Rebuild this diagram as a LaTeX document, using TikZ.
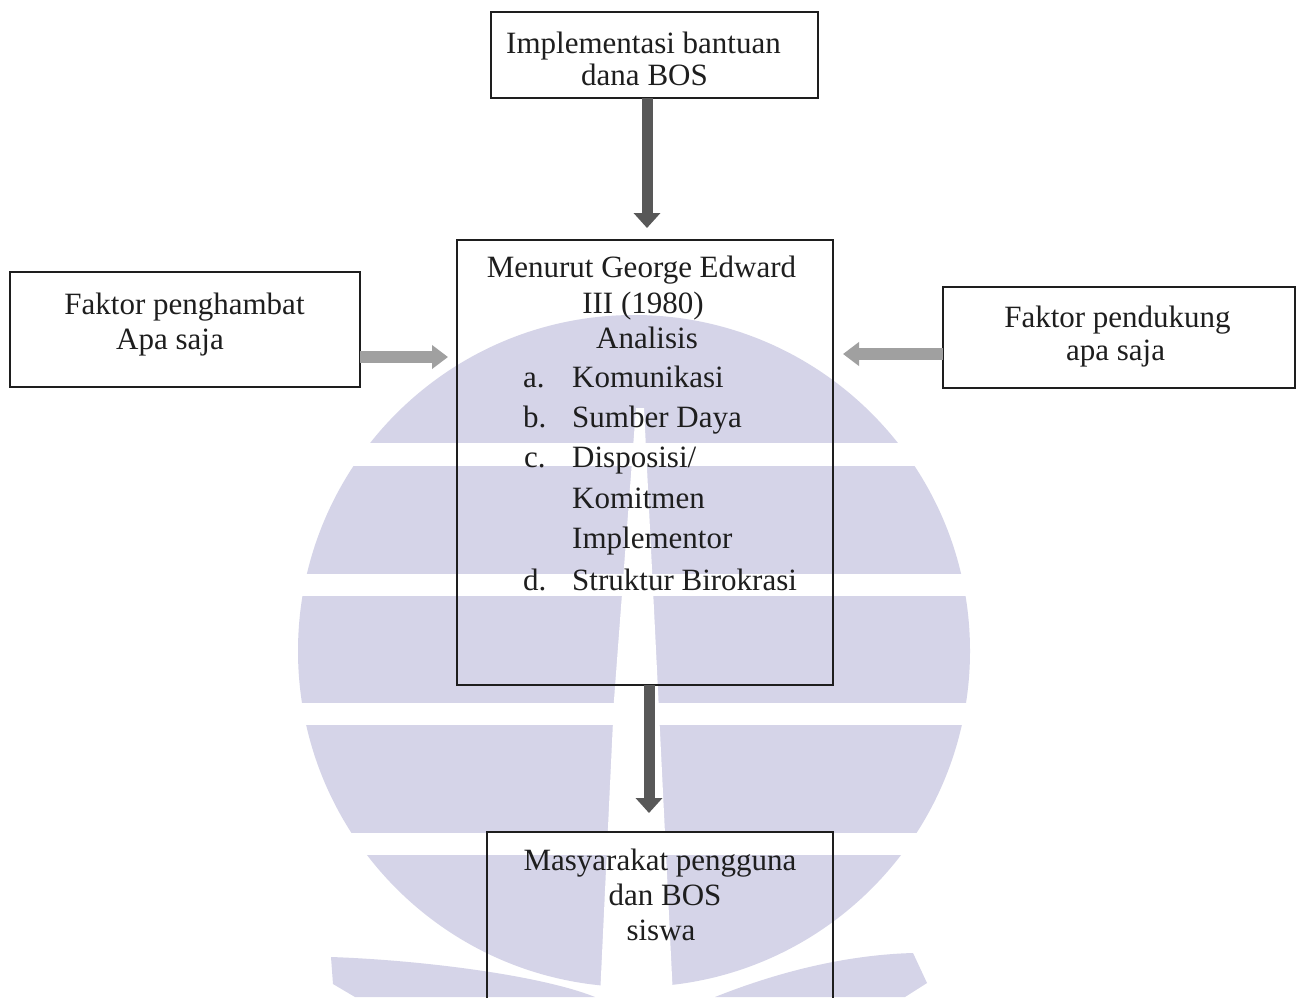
\documentclass[tikz,border=0pt]{standalone}
\usepackage{fontspec}
\setmainfont{Liberation Serif}
\usetikzlibrary{arrows.meta}
\definecolor{wm}{RGB}{213,212,232}
\definecolor{ink}{RGB}{30,30,30}
\definecolor{darr}{RGB}{88,88,88}
\definecolor{larr}{RGB}{160,160,160}
\newcommand{\myfs}{\fontsize{31}{36}\selectfont}
\begin{document}
\begin{tikzpicture}[x=1pt,y=-1pt,
  box/.style={draw=ink, line width=1.3pt, inner sep=0pt, outer sep=0pt, rectangle},
  txt/.style={font=\myfs, text=ink, inner sep=0pt, anchor=base},
  lbl/.style={font=\myfs, text=ink, inner sep=0pt, anchor=base west},
  varrow/.style={draw=darr, line width=11pt, -{Triangle[width=26pt,length=15pt]}},
  harrow/.style={draw=larr, line width=12pt, -{Triangle[width=23pt,length=16pt]}}]
\useasboundingbox (0,0) rectangle (1300,997);
\fill[white] (0,0) rectangle (1300,997);
% watermark
\fill[wm] (634,651) circle[radius=336pt];
\fill[white] (250,443) rectangle (1050,466);
\fill[white] (250,574) rectangle (1050,596);
\fill[white] (250,703) rectangle (1050,725);
\fill[white] (250,833) rectangle (1050,855);
\fill[wm] (331,957) .. controls (420,960) and (540,975) .. (595,997) -- (355,997) -- (333,984) -- cycle;
\fill[wm] (913,953) -- (927,983) -- (905,997) -- (715,997) .. controls (770,975) and (840,955) .. (913,953) -- cycle;
\fill[white] (636,408) -- (644,408) -- (656,650) -- (673,997) -- (600,997) -- (614,700) -- cycle;
% boxes
\node[box, minimum width=327pt, minimum height=86pt] (b1) at (654.5,55) {};
\node[box, minimum width=350pt, minimum height=115pt] (lft) at (185,329.5) {};
\node[box, minimum width=352pt, minimum height=101pt] (rgt) at (1119,337.5) {};
\node[box, minimum width=376pt, minimum height=445pt] (main) at (645,462.5) {};
\node[box, minimum width=346pt, minimum height=180pt] (bot) at (660,922) {};
% texts
\node[txt] (t1a) at (643.5,53) {Implementasi bantuan};
\node[txt] (t1b) at (644.5,85) {dana BOS};
\node[txt] (tla) at (184.5,314) {Faktor penghambat};
\node[txt] (tlb) at (170,349) {Apa saja};
\node[txt] (tra) at (1117.5,327) {Faktor pendukung};
\node[txt] (trb) at (1115.5,360) {apa saja};
\node[txt] (tm1) at (641.5,277) {Menurut George Edward};
\node[txt] (tm2) at (643,313) {III (1980)};
\node[txt] (tm3) at (647,348) {Analisis};
\node[lbl] (la) at (523,387) {a.};
\node[lbl] (lb) at (523,427) {b.};
\node[lbl] (lc) at (524,467) {c.};
\node[lbl] (ld) at (523,590) {d.};
\node[lbl] (ia) at (572,387) {Komunikasi};
\node[lbl] (ib) at (572,427) {Sumber Daya};
\node[lbl] (ic) at (572,467) {Disposisi/};
\node[lbl] (ic2) at (572,508) {Komitmen};
\node[lbl] (ic3) at (572,548) {Implementor};
\node[lbl] (id) at (572,590) {Struktur Birokrasi};
\node[txt] (tb1) at (660,870) {Masyarakat pengguna};
\node[txt] (tb2) at (665,905) {dan BOS};
\node[txt] (tb3) at (661,940) {siswa};
% connectors
\coordinate (ax1) at (647,0);
\coordinate (ax2) at (649,0);
\coordinate (ay1) at (0,357);
\coordinate (ay2) at (0,354);
\draw[varrow, shorten >=12pt] (b1.south -| ax1) -- (main.north -| ax1);
\draw[varrow, shorten >=19pt] (main.south -| ax2) -- (bot.north -| ax2);
\draw[harrow, shorten >=9pt] (lft.east |- ay1) -- (main.west |- ay1);
\draw[harrow, shorten >=10pt] (rgt.west |- ay2) -- (main.east |- ay2);
\end{tikzpicture}
\end{document}
